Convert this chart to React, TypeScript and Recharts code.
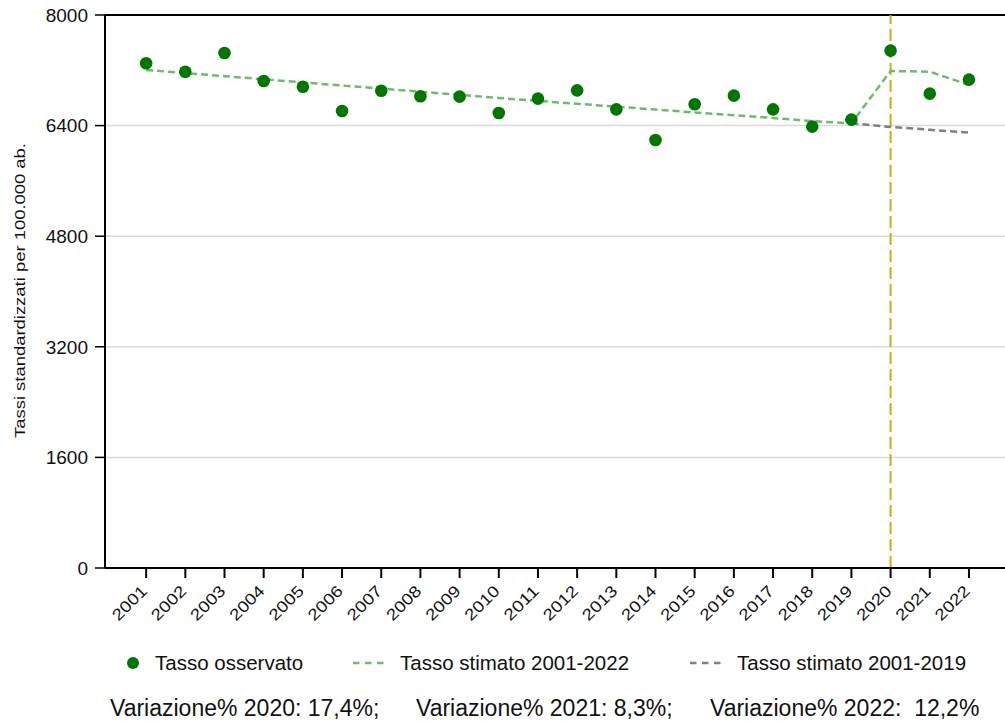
import React from 'react';
import {
  ComposedChart,
  Line,
  XAxis,
  YAxis,
  CartesianGrid,
  ReferenceLine,
} from 'recharts';

const years = [2001, 2002, 2003, 2004, 2005, 2006, 2007, 2008, 2009, 2010, 2011, 2012, 2013, 2014, 2015, 2016, 2017, 2018, 2019, 2020, 2021, 2022];
const observed = [7301, 7180, 7450, 7045, 6963, 6611, 6905, 6824, 6819, 6583, 6790, 6910, 6635, 6192, 6708, 6833, 6635, 6385, 6486, 7484, 6862, 7065];
const trend2001_2022 = [7205, 7160, 7115, 7070, 7025, 6980, 6935, 6890, 6845, 6800, 6758, 6716, 6674, 6632, 6590, 6550, 6510, 6465, 6433, 7190, 7180, 6988];
const trend2001_2019 = [null, null, null, null, null, null, null, null, null, null, null, null, null, null, null, null, null, null, 6433, 6380, 6340, 6298];
const yTicks = [0, 1600, 3200, 4800, 6400, 8000];
const legendLabels = ['Tasso osservato', 'Tasso stimato 2001-2022', 'Tasso stimato 2001-2019'];
const variationTexts = ['Variazione% 2020: 17,4%;', 'Variazione% 2021: 8,3%;', 'Variazione% 2022:  12,2%'];
const yLabel = 'Tassi standardizzati per 100.000 ab.';
const covidYear = 2020;

const data = years.map((y, i) => ({
  year: y,
  observed: observed[i],
  trendAll: trend2001_2022[i],
  trendPre: trend2001_2019[i],
}));

const FONT = '"Liberation Sans", Arial, sans-serif';
const DOT_GREEN = '#007800';
const LINE_GREEN = '#6dbb6d';
const LINE_GREY = '#808080';
const GOLD = '#d6a80d';

const XTick = (props: any) => {
  const { x, y, payload } = props;
  return (
    <text
      transform={`translate(${x + 2},${y + 12}) rotate(-45)`}
      textAnchor="end"
      fontFamily={FONT}
      fontSize={16}
      fill="#111"
      textLength={42}
      lengthAdjust="spacingAndGlyphs"
    >
      {payload.value}
    </text>
  );
};

const YLabel = (props: any) => {
  const vb = props.viewBox || { y: 15, height: 553 };
  const cy = vb.y + vb.height / 2 - 1;
  return (
    <text
      transform={`translate(25,${cy}) rotate(-90)`}
      textAnchor="middle"
      fontFamily={FONT}
      fontSize={14.5}
      fill="#111"
      textLength={295}
      lengthAdjust="spacingAndGlyphs"
    >
      {yLabel}
    </text>
  );
};

export default function App() {
  return (
    <div style={{ position: 'absolute', left: 0, top: 0, width: 1005, height: 721, background: '#fff', overflow: 'hidden', fontFamily: FONT }}>
      <ComposedChart
        width={1005}
        height={721}
        data={data}
        margin={{ top: 15, right: 0, left: 0, bottom: 93 }}
      >
        <CartesianGrid horizontal vertical={false} stroke="#dadada" strokeWidth={1.5} />
        <XAxis
          dataKey="year"
          type="number"
          domain={[1999.95, 2022.92]}
          ticks={years}
          interval={0}
          height={60}
          tick={<XTick />}
          tickSize={10}
          axisLine={{ stroke: '#000', strokeWidth: 2 }}
          tickLine={{ stroke: '#000', strokeWidth: 2 }}
          allowDataOverflow
        />
        <YAxis
          type="number"
          domain={[0, 8000]}
          ticks={yTicks}
          width={105}
          tickSize={10}
          tickMargin={7}
          axisLine={{ stroke: '#000', strokeWidth: 2 }}
          tickLine={{ stroke: '#000', strokeWidth: 1.5 }}
          tick={{ fontSize: 19, fill: '#111', fontFamily: FONT }}
          label={<YLabel />}
        />
        <ReferenceLine y={8000} stroke="#000" strokeWidth={2} />
        <ReferenceLine x={covidYear} stroke={GOLD} strokeWidth={2} strokeDasharray="12 5" />
        <Line
          dataKey="trendPre"
          type="linear"
          stroke={LINE_GREY}
          strokeWidth={2.5}
          strokeDasharray="7 4"
          dot={false}
          activeDot={false}
          connectNulls={false}
          isAnimationActive={false}
        />
        <Line
          dataKey="trendAll"
          type="linear"
          stroke={LINE_GREEN}
          strokeWidth={2.5}
          strokeDasharray="7 4"
          dot={false}
          activeDot={false}
          isAnimationActive={false}
        />
        <Line
          dataKey="observed"
          type="linear"
          stroke="none"
          strokeWidth={0}
          dot={{ r: 6.3, fill: DOT_GREEN, stroke: 'none' }}
          activeDot={false}
          isAnimationActive={false}
        />
      </ComposedChart>

      {/* Legend */}
      <svg style={{ position: 'absolute', left: 0, top: 645 }} width={1005} height={40}>
        <circle cx={133} cy={18} r={6} fill={DOT_GREEN} />
        <text x={155} y={25} fontFamily={FONT} fontSize={20.5} fill="#111">{legendLabels[0]}</text>
        <line x1={353} y1={18} x2={385} y2={18} stroke={LINE_GREEN} strokeWidth={2.5} strokeDasharray="6.5 5.5" />
        <text x={400} y={25} fontFamily={FONT} fontSize={20.5} fill="#111">{legendLabels[1]}</text>
        <line x1={690} y1={18} x2={722} y2={18} stroke={LINE_GREY} strokeWidth={2.5} strokeDasharray="6.5 5.5" />
        <text x={737} y={25} fontFamily={FONT} fontSize={20.5} fill="#111">{legendLabels[2]}</text>
      </svg>

      {/* Variations */}
      <svg style={{ position: 'absolute', left: 0, top: 690 }} width={1005} height={31}>
        <text x={110} y={26} fontFamily={FONT} fontSize={23} fill="#111" style={{ whiteSpace: 'pre' }}>{variationTexts[0]}</text>
        <text x={416} y={26} fontFamily={FONT} fontSize={23} fill="#111" style={{ whiteSpace: 'pre' }}>{variationTexts[1]}</text>
        <text x={710} y={26} fontFamily={FONT} fontSize={23} fill="#111" style={{ whiteSpace: 'pre' }}>{variationTexts[2]}</text>
      </svg>
    </div>
  );
}
